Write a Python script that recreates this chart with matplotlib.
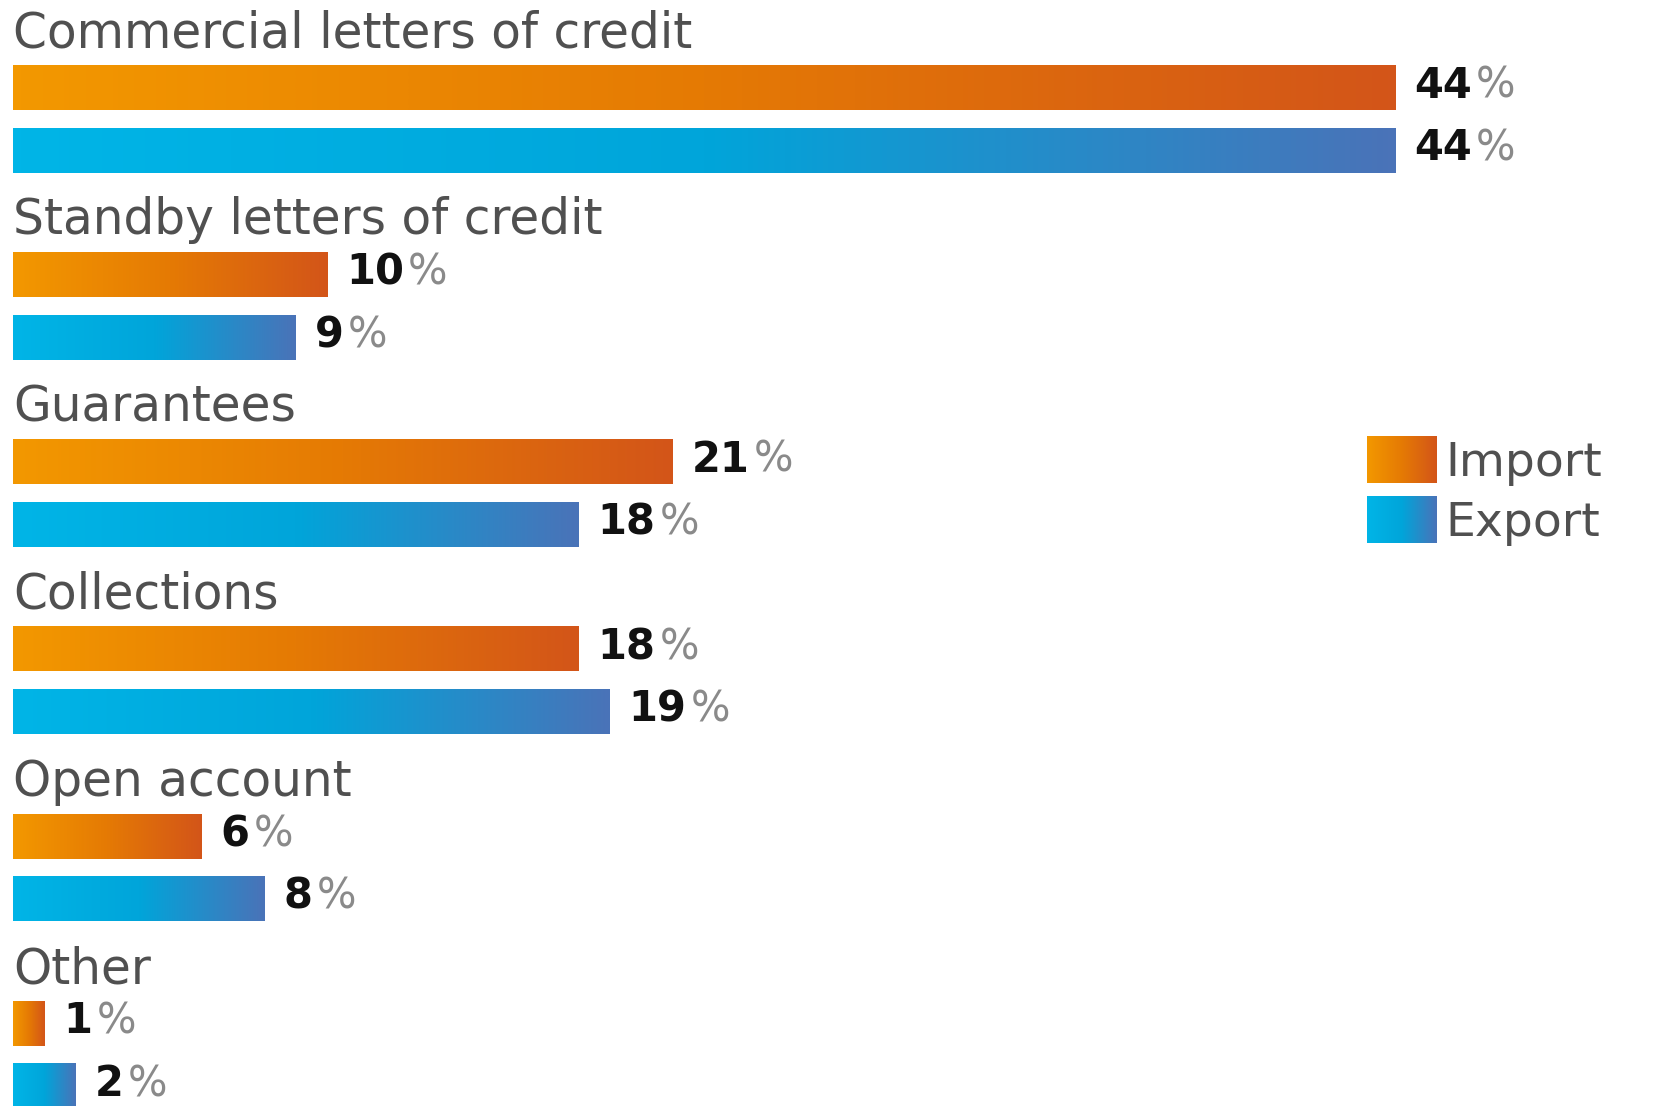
import numpy as np
import matplotlib.pyplot as plt
from matplotlib.colors import LinearSegmentedColormap

# Data
categories = ["Commercial letters of credit", "Standby letters of credit", "Guarantees",
              "Collections", "Open account", "Other"]
import_share = [44, 10, 21, 18, 6, 1]
export_share = [44, 9, 18, 19, 8, 2]
series_names = ["Import", "Export"]

# Gradient colour maps (left -> right of each bar)
orange_cmap = LinearSegmentedColormap.from_list("orange", ["#f39800", "#e57a04", "#d35519"])
blue_cmap = LinearSegmentedColormap.from_list("blue", ["#00b5e7", "#00a5da", "#4a73b8"])
gradient = np.linspace(0, 1, 256).reshape(1, -1)

label_color = "#505050"
font = "DejaVu Sans"

fig = plt.figure(figsize=(16.53, 11.06), dpi=100)
ax = fig.add_axes([0, 0, 1, 1])
ax.axis("off")

bar_h = 0.24
title_off = 0.02
imp_off = 0.31
exp_off = 0.645


def gradient_bar(x0, x1, yc, cmap):
    ax.imshow(gradient, cmap=cmap, aspect="auto", interpolation="bicubic",
              extent=(x0, x1, yc + bar_h / 2, yc - bar_h / 2), zorder=2)


def value_label(x, yc, val):
    num = ax.text(x + 0.6, yc - 0.01, str(val), fontsize=30, fontweight="bold", color="#111111",
                  family=font, va="center", ha="left")
    ax.annotate("%", xy=(1, 0), xycoords=num, xytext=(3, 0), textcoords="offset points",
                fontsize=30, color="#8a8a8a", family=font, va="bottom", ha="left")


for i, cat in enumerate(categories):
    base = i
    ax.text(0, base + title_off, cat, fontsize=35, color=label_color, family=font,
            va="center", ha="left")
    yi = base + imp_off
    ye = base + exp_off
    gradient_bar(0, import_share[i], yi, orange_cmap)
    gradient_bar(0, export_share[i], ye, blue_cmap)
    value_label(import_share[i], yi, import_share[i])
    value_label(export_share[i], ye, export_share[i])

# Legend with gradient swatches
leg_x0, leg_x1 = 43.1, 45.3
for cmap, name, (y0, y1) in zip([orange_cmap, blue_cmap], series_names,
                                [(2.175, 2.423), (2.496, 2.744)]):
    ax.imshow(gradient, cmap=cmap, aspect="auto", interpolation="bicubic",
              extent=(leg_x0, leg_x1, y1, y0), zorder=2)
    ax.text(leg_x1 + 0.3, (y0 + y1) / 2 + 0.02, name, fontsize=34, color=label_color,
            family=font, va="center", ha="left")

ax.set_xlim(-0.414, 52.2)
ax.set_ylim(5.752, -0.158)

fig.savefig("out.png", dpi=100)
